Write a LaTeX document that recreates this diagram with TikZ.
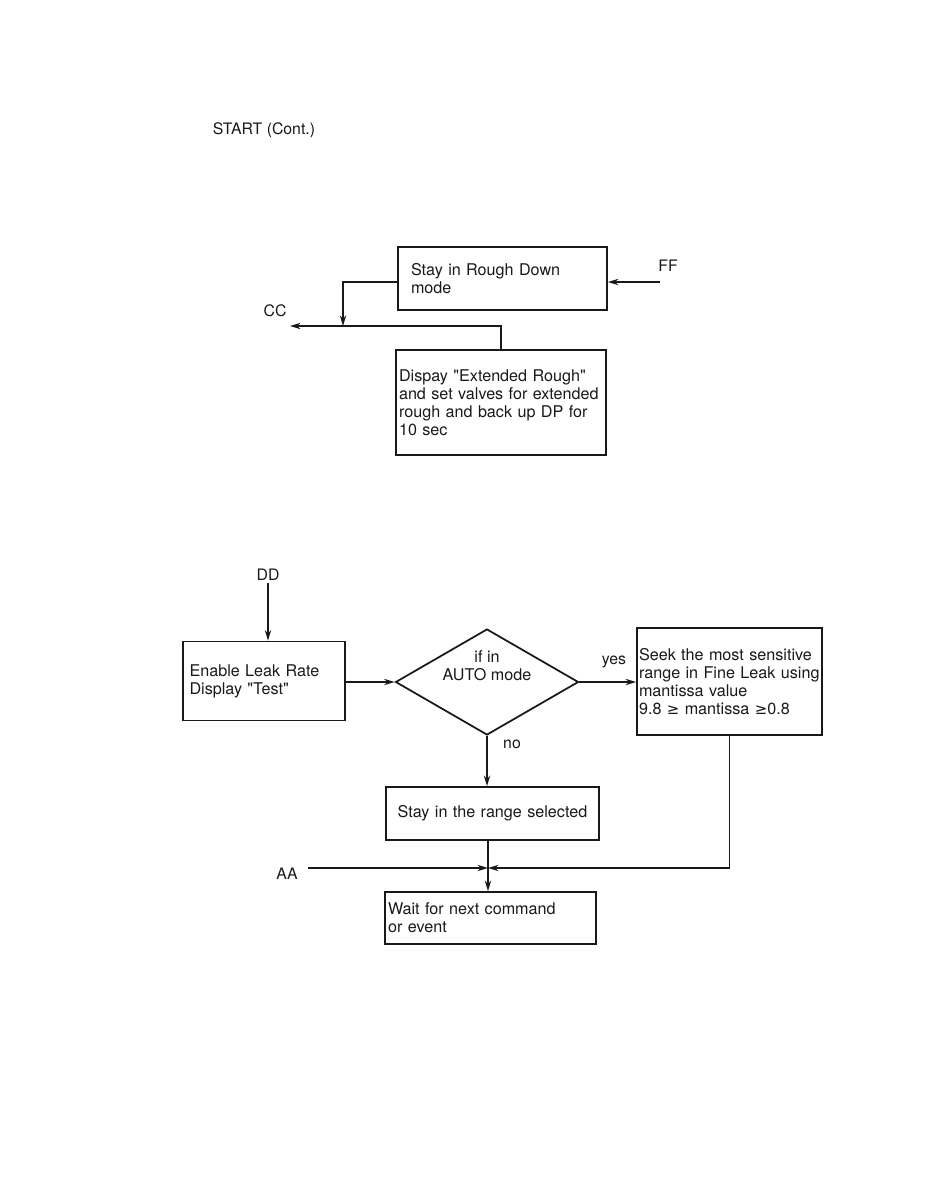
\documentclass[tikz,border=0pt]{standalone}
\usepackage{fontspec}
\setmainfont{TeX Gyre Heros}
\newfontfamily\symfont{DejaVu Sans}
\usetikzlibrary{arrows.meta,positioning,shapes.geometric}
\definecolor{inkcolor}{RGB}{25,25,25}
\tikzset{
  flowbox/.style={draw=inkcolor, line width=1pt, align=left, inner ysep=2pt,
    font=\fontsize{9.2}{10.2}\selectfont, text=inkcolor},
  flowtag/.style={font=\fontsize{9}{10}\selectfont, text=inkcolor, inner sep=1pt},
  flowline/.style={draw=inkcolor, line width=0.9pt, -{Stealth[length=6pt,width=3.6pt]}},
}

\begin{document}
\begin{tikzpicture}[x=0.02cm, y=-0.02cm]
    % Page frame (pixel grid of the scanned sheet)
    \useasboundingbox (0,0) rectangle (924,1194);
    \node[flowtag] (title) at (264,130) {START (Cont.)};
    % Upper part: rough down
    \node[flowbox, minimum width=4.18cm, minimum height=1.26cm, text width=3.66cm, inner xsep=0.26cm] (rough) at (502.5,278.5)
      {Stay in Rough Down\\mode};
    \node[flowbox, minimum width=4.2cm, minimum height=2.1cm, text width=4.08cm, inner xsep=0.06cm] (extend) at (501,402.5)
      {Dispay \textquotedbl Extended Rough\textquotedbl\\and set valves for extended\\rough and back up DP for\\10 sec\\[9pt]};
    \node[flowtag] (ff) at (668,266) {FF};
    \node[flowtag] (cc) at (275,311) {CC};
    \coordinate (ffin) at (660,282);
    \coordinate (ccjoin) at (343,326);
    \coordinate (ccout) at (290,326);
    \draw[flowline] (ffin) -- (ffin -| rough.east);
    \draw[flowline] (rough.west |- ffin) -| (ccjoin);
    \draw[flowline] (extend.north) |- (ccout);
    % Lower part: leak test
    \node[flowtag] (dd) at (268,575) {DD};
    \node[flowbox, minimum width=3.24cm, minimum height=1.58cm, text width=2.98cm, inner xsep=0.13cm] (enable) at (264,681)
      {Enable Leak Rate\\Display \textquotedbl Test\textquotedbl};
    \node[diamond, draw=inkcolor, line width=1pt, minimum width=3.66cm, minimum height=2.12cm, inner sep=0pt, aspect=1.73] (auto) at (487,682) {};
    \node[align=center, font=\fontsize{9.2}{10.2}\selectfont, text=inkcolor, inner sep=0pt] (autotext) at (487,666) {if in\\AUTO mode};
    \node[flowbox, minimum width=3.7cm, minimum height=2.14cm, text width=3.62cm, inner xsep=0.04cm] (seek) at (729.5,681.5)
      {Seek the most sensitive\\range in Fine Leak using\\mantissa value\\9.8 {\symfont\fontsize{8.5}{10}\selectfont ≥} mantissa {\symfont\fontsize{8.5}{10}\selectfont ≥}0.8\\[9pt]};
    \node[flowbox, align=center, minimum width=4.26cm, minimum height=1.06cm, text width=4.0cm] (range) at (492.5,813.5)
      {Stay in the range selected};
    \node[flowbox, minimum width=4.22cm, minimum height=1.04cm, text width=4.1cm, inner xsep=0.06cm] (wait) at (490.5,918)
      {Wait for next command\\or event};
    \node[flowtag] (aa) at (287,874) {AA};
    \node[flowtag] (yes) at (614,662) {yes};
    \node[flowtag] (no) at (512,744) {no};
    \coordinate (aastart) at (308,868);
    \coordinate (aajoin) at (488,868);
    \draw[flowline] (dd.south) -- (dd.south |- enable.north);
    \draw[flowline] (enable.east |- auto.west) -- (auto.west);
    \draw[flowline] (auto.east) -- (auto.east -| seek.west);
    \draw[flowline] (auto.south) -- (auto.south |- range.north);
    \draw[flowline] (range.south -| aajoin) -- (aajoin |- wait.north);
    \draw[flowline] (aastart) -- (aajoin);
    \draw[flowline] (seek.south) |- (aajoin);
\end{tikzpicture}
\end{document}
